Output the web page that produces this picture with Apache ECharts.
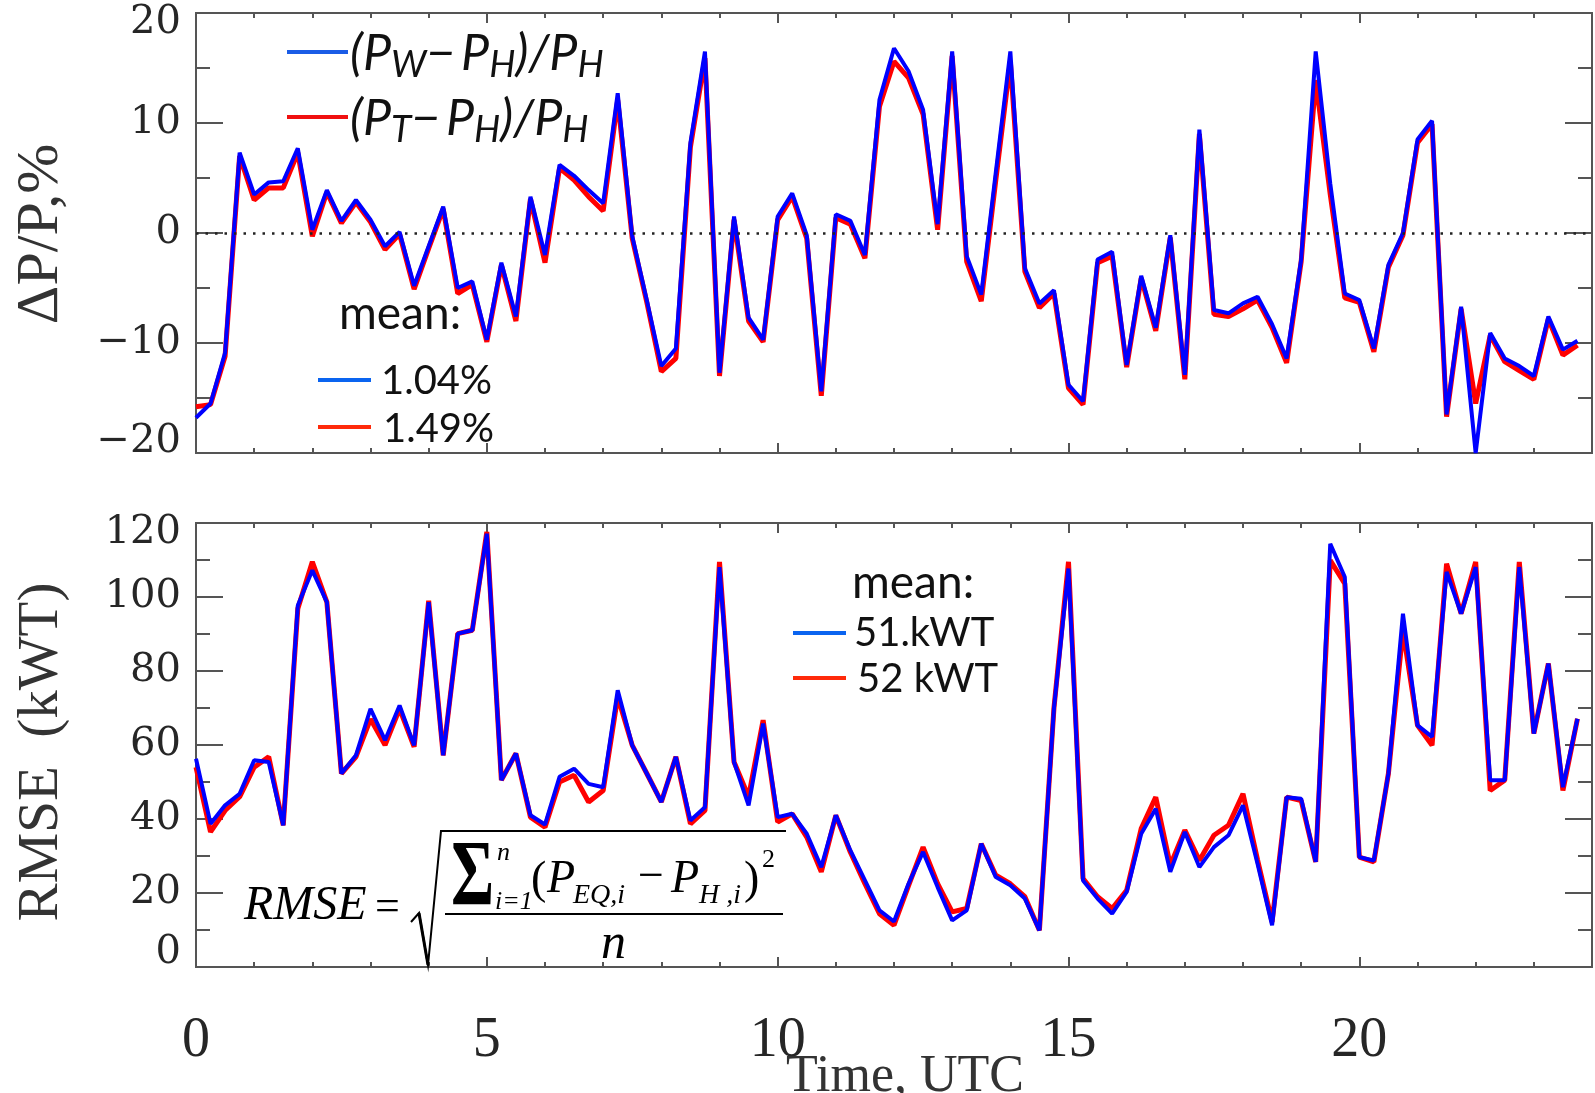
<!DOCTYPE html>
<html>
<head>
<meta charset="utf-8">
<script src="https://cdn.jsdelivr.net/npm/echarts@6/dist/echarts.min.js"></script>
<style>
  html, body { margin: 0; padding: 0; background: #fff; }
  #chart { width: 1595px; height: 1093px; }
</style>
</head>
<body>
<div id="chart"></div>
<script>
// samples every 15 min, 0 .. 23:45 UTC
const stepHours = 0.25

// (P_W - P_H)/P_H, %
const dpW = [
  -16.8, -15.5, -10.9, 7.3, 3.5, 4.6, 4.7, 7.7, 0.3, 3.9, 1.1, 3.0, 1.2, -1.2, 0.1, -4.8,
  -1.2, 2.4, -5.0, -4.4, -9.7, -2.7, -7.6, 3.3, -2.0, 6.2, 5.2, 3.9, 2.7, 12.7, -0.3, -6.1,
  -12.1, -10.5, 8.2, 16.5, -12.7, 1.5, -7.7, -9.7, 1.5, 3.6, -0.2, -14.4, 1.7, 1.1, -2.0, 12.1,
  16.8, 14.7, 11.2, 0.8, 16.5, -2.1, -5.6, 5.5, 16.5, -3.2, -6.4, -5.2, -13.8, -15.3, -2.4, -1.7,
  -12.0, -3.9, -8.6, -0.2, -12.9, 9.4, -7.0, -7.3, -6.4, -5.8, -8.3, -11.4, -2.4, 16.5, 4.5, -5.5,
  -6.1, -10.5, -2.9, 0.0, 8.5, 10.2, -16.5, -6.7, -20.0, -9.1, -11.4, -12.1, -13.0, -7.6, -10.6, -9.8
]
// (P_T - P_H)/P_H, %
const dpT = [
  -15.8, -15.6, -11.2, 7.0, 3.0, 4.1, 4.1, 7.3, -0.3, 3.7, 0.9, 2.8, 1.0, -1.5, -0.1, -5.1,
  -1.4, 2.2, -5.5, -4.7, -9.9, -2.9, -8.0, 3.1, -2.7, 5.9, 4.8, 3.3, 2.0, 12.1, -0.5, -6.3,
  -12.6, -11.4, 7.8, 15.9, -13.0, 1.2, -8.0, -9.9, 1.2, 3.3, -0.5, -14.8, 1.4, 0.8, -2.3, 11.5,
  15.6, 14.1, 10.8, 0.3, 16.1, -2.6, -6.2, 4.8, 15.6, -3.5, -6.8, -5.5, -14.1, -15.6, -2.7, -2.1,
  -12.2, -4.1, -8.9, -0.4, -13.3, 9.0, -7.4, -7.6, -6.9, -6.1, -8.6, -11.8, -2.6, 13.9, 3.5, -5.9,
  -6.3, -10.8, -3.1, -0.2, 8.2, 9.9, -16.7, -6.9, -15.5, -9.3, -11.7, -12.5, -13.3, -7.8, -11.1, -10.2
]
// RMSE, kWT
const rmseW = [
  56.3, 38.7, 43.7, 46.8, 55.9, 55.4, 38.3, 97.7, 107.2, 98.6, 52.3, 57.2, 69.8, 61.3, 70.7, 59.9,
  98.6, 57.2, 90.1, 91.0, 117.1, 50.5, 57.7, 41.0, 38.5, 51.4, 53.6, 49.5, 48.6, 74.8, 59.9, 52.3,
  44.6, 56.8, 39.6, 43.2, 108.1, 55.4, 43.7, 65.8, 40.5, 41.4, 36.0, 27.0, 41.0, 31.5, 23.4, 15.3,
  12.3, 22.5, 31.1, 21.6, 12.6, 15.3, 33.3, 24.3, 22.1, 18.5, 9.9, 70.0, 107.7, 23.4, 18.5, 14.4,
  20.3, 36.0, 42.8, 25.7, 36.5, 27.0, 32.4, 35.6, 43.7, 27.9, 11.3, 45.9, 45.5, 28.4, 114.4, 105.4,
  29.7, 28.8, 52.3, 95.5, 65.3, 62.2, 106.8, 95.5, 108.1, 50.5, 50.5, 108.1, 63.1, 82.0, 48.6, 67.1
]
const rmseT = [
  54.0, 36.5, 42.3, 46.0, 54.0, 56.8, 38.3, 96.8, 109.5, 98.6, 52.3, 56.8, 67.0, 60.0, 69.8, 59.5,
  99.0, 57.2, 90.1, 91.0, 117.6, 50.5, 57.7, 40.5, 37.8, 50.0, 51.8, 44.6, 47.7, 73.0, 59.9, 52.3,
  44.6, 56.8, 38.7, 42.3, 109.5, 55.4, 46.0, 66.7, 39.2, 41.4, 35.1, 25.7, 41.0, 31.0, 22.5, 14.4,
  11.3, 22.0, 32.4, 22.5, 14.9, 15.8, 33.3, 24.8, 22.5, 19.0, 9.9, 70.0, 109.5, 23.9, 19.0, 15.8,
  20.7, 37.4, 45.9, 27.5, 37.0, 28.8, 35.6, 38.3, 46.8, 29.0, 12.2, 45.9, 45.0, 28.4, 109.9, 103.6,
  29.7, 28.4, 52.3, 91.0, 65.3, 59.9, 109.0, 95.5, 109.5, 47.7, 50.5, 109.5, 63.1, 82.0, 47.7, 67.1
]

const meanDp = ['1.04%', '1.49%']
const meanRmse = ['51.kWT', '52 kWT']

const axisColor = '#555'
const labelColor = '#262626'
const blue = '#0000ff'
const red = '#ff0000'

const toPoints = arr => arr.map((v, i) => [i * stepHours, v])

// x axes: short ticks every hour, long ticks every 5 h, on bottom and top
function xAxesFor(gridIndex, withLabels) {
  const base = {
    type: 'value', gridIndex, min: 0, max: 24,
    splitLine: { show: false },
    axisLine: { show: true, onZero: false, lineStyle: { color: axisColor, width: 2 } }
  }
  const minor = { inside: true, length: 5, lineStyle: { color: axisColor, width: 2 } }
  const major = { inside: true, length: 10, lineStyle: { color: axisColor, width: 2 } }
  return [
    { ...base, position: 'bottom', interval: 1, axisTick: minor, axisLabel: { show: false } },
    {
      ...base, position: 'bottom', interval: 5, axisTick: major,
      axisLabel: {
        show: withLabels, margin: 46, fontFamily: 'Liberation Serif', fontSize: 56, color: labelColor,
        formatter: v => (v % 5 === 0 ? String(v) : '')
      }
    },
    { ...base, position: 'top', interval: 1, axisTick: minor, axisLabel: { show: false } },
    { ...base, position: 'top', interval: 5, axisTick: major, axisLabel: { show: false } }
  ]
}

function yAxesFor(gridIndex, min, max, interval, shifts) {
  const font = { fontFamily: 'DejaVu Serif', fontSize: 40, color: labelColor }
  const base = {
    type: 'value', gridIndex, min, max, interval,
    splitLine: { show: false },
    axisLine: { show: true, onZero: false, lineStyle: { color: axisColor, width: 2 } },
    axisTick: { inside: true, length: 27, lineStyle: { color: axisColor, width: 2 } },
    minorTick: { show: true, splitNumber: 2, length: 14, lineStyle: { color: axisColor, width: 2 } }
  }
  return [
    {
      ...base, position: 'left',
      axisLabel: {
        margin: 15, ...font,
        formatter: v => {
          const s = v < 0 ? '\u2212' + (-v) : String(v)
          return '{' + (shifts[v] || 'n') + '|' + s + '}'
        },
        rich: {
          n: { ...font },
          dn: { ...font, padding: [20, 0, 0, 0] },
          up: { ...font, padding: [0, 0, 22, 0] },
          up2: { ...font, padding: [0, 0, 28, 0] }
        }
      }
    },
    { ...base, position: 'right', axisLabel: { show: false } }
  ]
}

const serif = '"Liberation Serif", serif'
const sans = 'Lato, "Open Sans", sans-serif'

function txt(x, y, text, font, extra) {
  return {
    type: 'text', x, y, silent: true, z: 100,
    style: Object.assign({ text, font, fill: '#111', align: 'left', verticalAlign: 'middle' }, extra || {})
  }
}
function seg(x1, y1, x2, y2, color, w) {
  return { type: 'line', silent: true, z: 100, shape: { x1, y1, x2, y2 }, style: { stroke: color, lineWidth: w } }
}

const legendRich = {
  m: { fontFamily: sans, fontStyle: 'italic', fontSize: 50, lineHeight: 60, fill: '#111' },
  s: { fontFamily: sans, fontStyle: 'italic', fontSize: 37, lineHeight: 37, verticalAlign: 'bottom', fill: '#111' }
}

const graphics = [
  // y axis names
  Object.assign(txt(41, 234, '\u0394P/P,%', '60px ' + serif, { align: 'center', fill: '#333' }), { rotation: Math.PI / 2 }),
  Object.assign(txt(42, 752, 'RMSE  (kWT)', '57px ' + serif, { align: 'center', fill: '#333' }), { rotation: Math.PI / 2 }),
  // x axis name
  txt(905, 1077, 'Time, UTC', '52px ' + serif, { align: 'center', fill: '#333' }),

  // top legend
  seg(287, 52, 348, 52, '#1a5ce6', 4),
  { type: 'text', x: 350, y: 54, silent: true, z: 100,
    style: { text: '{m|(P}{s|W}{m|\u2212\u2009P}{s|H}{m|)/P}{s|H}', rich: legendRich, verticalAlign: 'middle', align: 'left' } },
  seg(287, 117, 348, 117, '#f01010', 4),
  { type: 'text', x: 350, y: 119, silent: true, z: 100,
    style: { text: '{m|(P}{s|T}{m|\u2212\u2009P}{s|H}{m|)/P}{s|H}', rich: legendRich, verticalAlign: 'middle', align: 'left' } },

  // top means
  txt(339, 314, 'mean:', '46px ' + sans),
  seg(318, 380, 371, 380, '#0a64f0', 4),
  txt(381, 381, meanDp[0], '40px ' + sans),
  seg(318, 427, 371, 427, '#ff2a0a', 4),
  txt(383, 429, meanDp[1], '40px ' + sans),

  // bottom means
  txt(852, 583, 'mean:', '46px ' + sans),
  seg(793, 633, 846, 633, '#0a64f0', 4),
  txt(854, 633, meanRmse[0], '40px ' + sans),
  seg(793, 678, 846, 678, '#ff2a0a', 4),
  txt(857, 679, meanRmse[1], '40px ' + sans),

  // RMSE formula
  txt(244, 906, 'RMSE', 'italic 48px ' + serif, { fill: '#000' }),
  txt(375, 908, '=', '44px ' + serif, { fill: '#000' }),
  { type: 'polyline', silent: true, z: 100,
    shape: { points: [[411, 922], [419, 913], [428, 965], [441, 831], [786, 831]] },
    style: { stroke: '#000', lineWidth: 2, fill: null } },
  seg(419, 913, 428, 965, '#000', 3),
  seg(445, 914, 783, 914, '#000', 2),
  { type: 'text', x: 451, y: 880, scaleY: 1.4, silent: true, z: 100,
    style: { text: '\u03a3', font: 'bold 66px ' + serif, fill: '#000', align: 'left', verticalAlign: 'middle' } },
  txt(497, 853, 'n', 'italic 26px ' + serif, { fill: '#000' }),
  txt(495, 902, 'i=1', 'italic 26px ' + serif, { fill: '#000' }),
  txt(531, 881, '(', '46px ' + serif, { fill: '#000' }),
  txt(547, 880, 'P', 'italic 46px ' + serif, { fill: '#000' }),
  txt(573, 896, 'EQ,i', 'italic 28px ' + serif, { fill: '#000' }),
  txt(638, 878, '\u2212', '46px ' + serif, { fill: '#000' }),
  txt(671, 880, 'P', 'italic 46px ' + serif, { fill: '#000' }),
  txt(699, 896, 'H ,i', 'italic 28px ' + serif, { fill: '#000' }),
  txt(744, 881, ')', '46px ' + serif, { fill: '#000' }),
  txt(762, 860, '2', '26px ' + serif, { fill: '#000' }),
  txt(601, 945, 'n', 'italic 50px ' + serif, { fill: '#000' })
]

const chart = echarts.init(document.getElementById('chart'))
const option = {
  animation: false,
  backgroundColor: '#fff',
  grid: [
    { left: 196, right: 3, top: 13, height: 440 },
    { left: 196, right: 3, top: 523, height: 444 }
  ],
  xAxis: [...xAxesFor(0, false), ...xAxesFor(1, true)],
  yAxis: [
    ...yAxesFor(0, -20, 20, 10, { 20: 'dn', '-20': 'up' }),
    ...yAxesFor(1, 0, 120, 20, { 120: 'dn', 0: 'up2' })
  ],
  series: [
    {
      type: 'line', xAxisIndex: 0, yAxisIndex: 0, data: [], silent: true,
      markLine: {
        silent: true, symbol: ['none', 'none'], label: { show: false },
        lineStyle: { color: '#222', type: [2.5, 7], width: 2.5 },
        data: [{ yAxis: 0 }]
      }
    },
    {
      name: 'T', type: 'line', xAxisIndex: 0, yAxisIndex: 0, data: toPoints(dpT),
      showSymbol: false, silent: true, lineStyle: { color: red, width: 5 }, itemStyle: { color: red }
    },
    {
      name: 'W', type: 'line', xAxisIndex: 0, yAxisIndex: 0, data: toPoints(dpW),
      showSymbol: false, silent: true, lineStyle: { color: blue, width: 4 }, itemStyle: { color: blue }
    },
    {
      name: 'T rmse', type: 'line', xAxisIndex: 4, yAxisIndex: 2, data: toPoints(rmseT),
      showSymbol: false, silent: true, lineStyle: { color: red, width: 5 }, itemStyle: { color: red }
    },
    {
      name: 'W rmse', type: 'line', xAxisIndex: 4, yAxisIndex: 2, data: toPoints(rmseW),
      showSymbol: false, silent: true, lineStyle: { color: blue, width: 4 }, itemStyle: { color: blue }
    }
  ],
  graphic: graphics
}
chart.setOption(option)
</script>
</body>
</html>
